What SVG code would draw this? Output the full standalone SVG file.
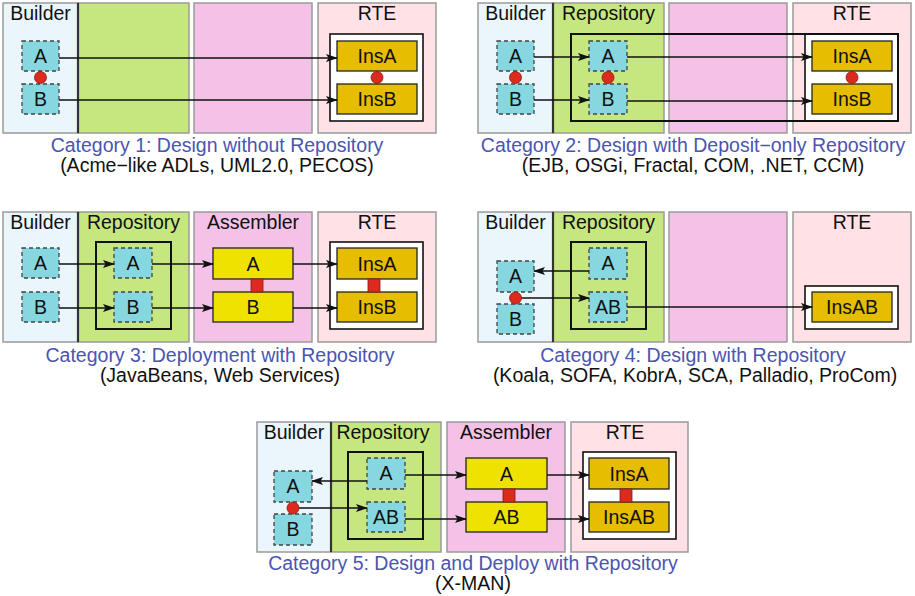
<svg xmlns="http://www.w3.org/2000/svg" width="915" height="596" viewBox="0 0 915 596">
<style>
.pb{fill:#eaf5fc;stroke:#9a9a9a;stroke-width:1.5}
.pr{fill:#c6e680;stroke:#9a9a9a;stroke-width:1.5}
.pa{fill:#f4c2e6;stroke:#9a9a9a;stroke-width:1.5}
.pt{fill:#ffe1e6;stroke:#9a9a9a;stroke-width:1.5}
.sep{stroke:#333;stroke-width:2.2}
.comp{fill:#87d7e0;stroke:#444;stroke-width:1.3;stroke-dasharray:4 3}
.asm{fill:#efe100;stroke:#222;stroke-width:1.3}
.ins{fill:#e6bd00;stroke:#222;stroke-width:1.3}
.box{fill:none;stroke:#111;stroke-width:2}
.rte{fill:#fff;stroke:#111;stroke-width:1.6}
.dot{fill:#dd2a1f;stroke:#8a1a10;stroke-width:0.8}
.t{font-family:"Liberation Sans",Arial,sans-serif;font-size:19.5px;fill:#111;text-anchor:middle}
.cap{fill:#4a55b0}
.c{stroke:#111;stroke-width:1.3;fill:none;marker-end:url(#ah)}
</style>
<defs>
<marker id="ah" viewBox="0 0 12 8" refX="11" refY="4" markerWidth="12" markerHeight="8" markerUnits="userSpaceOnUse" orient="auto">
<path d="M0,0 L12,4 L0,8 L2.5,4 z" fill="#111"/>
</marker>
</defs>

<!-- Category 1 -->
<g id="cat1">
<rect class="pb" x="3" y="3" width="75" height="130"/>
<rect class="pr" x="78" y="3" width="111" height="130"/>
<rect class="pa" x="194" y="3" width="118" height="130"/>
<rect class="pt" x="318" y="3" width="118" height="130"/>
<line class="sep" x1="78" y1="3" x2="78" y2="133"/>
<text class="t" x="40.5" y="20">Builder</text>
<text class="t" x="377" y="20">RTE</text>
<rect class="rte" x="330" y="34" width="93" height="87"/>
<text class="t cap" x="217" y="152">Category 1: Design without Repository</text>
<text class="t" x="217" y="172">(Acme−like ADLs, UML2.0, PECOS)</text>
</g>
<g id="c1-bA"><rect class="comp" x="22" y="41" width="37" height="30"/><text class="t" x="40.5" y="63">A</text></g>
<g id="c1-bB"><rect class="comp" x="22" y="84" width="37" height="30"/><text class="t" x="40.5" y="106">B</text></g>
<g id="c1-dot"><circle class="dot" cx="40.5" cy="77.5" r="6"/></g>
<g id="c1-insA"><rect class="ins" x="337" y="41" width="80" height="30"/><text class="t" x="377" y="63">InsA</text></g>
<g id="c1-insB"><rect class="ins" x="337" y="84" width="80" height="30"/><text class="t" x="377" y="106">InsB</text></g>
<g id="c1-dot2"><circle class="dot" cx="377" cy="77.5" r="6"/></g>

<!-- Category 2 -->
<g id="cat2">
<rect class="pb" x="478" y="3" width="75" height="130"/>
<rect class="pr" x="553" y="3" width="111" height="130"/>
<rect class="pa" x="669" y="3" width="118" height="130"/>
<rect class="pt" x="793" y="3" width="118" height="130"/>
<line class="sep" x1="553" y1="3" x2="553" y2="133"/>
<text class="t" x="515.5" y="20">Builder</text>
<text class="t" x="608.5" y="20">Repository</text>
<text class="t" x="852" y="20">RTE</text>
<rect class="rte" x="805" y="34" width="93" height="87"/>
<rect class="box" x="571" y="34" width="327" height="87"/>
<text class="t cap" x="693" y="152">Category 2: Design with Deposit−only Repository</text>
<text class="t" x="693" y="172">(EJB, OSGi, Fractal, COM, .NET, CCM)</text>
</g>
<g id="c2-bA"><rect class="comp" x="497" y="41" width="37" height="30"/><text class="t" x="515.5" y="63">A</text></g>
<g id="c2-bB"><rect class="comp" x="497" y="84" width="37" height="30"/><text class="t" x="515.5" y="106">B</text></g>
<g id="c2-dot"><circle class="dot" cx="515.5" cy="77.5" r="6"/></g>
<g id="c2-rA"><rect class="comp" x="589" y="41" width="38" height="30"/><text class="t" x="608" y="63">A</text></g>
<g id="c2-rB"><rect class="comp" x="589" y="84" width="38" height="30"/><text class="t" x="608" y="106">B</text></g>
<g id="c2-dot2"><circle class="dot" cx="608" cy="77.5" r="6"/></g>
<g id="c2-insA"><rect class="ins" x="812" y="41" width="80" height="30"/><text class="t" x="852" y="63">InsA</text></g>
<g id="c2-insB"><rect class="ins" x="812" y="84" width="80" height="30"/><text class="t" x="852" y="106">InsB</text></g>
<g id="c2-dot3"><circle class="dot" cx="852" cy="77.5" r="6"/></g>

<!-- Category 3 -->
<g id="cat3">
<rect class="pb" x="3" y="212" width="75" height="130"/>
<rect class="pr" x="78" y="212" width="111" height="130"/>
<rect class="pa" x="194" y="212" width="118" height="130"/>
<rect class="pt" x="318" y="212" width="118" height="130"/>
<line class="sep" x1="78" y1="212" x2="78" y2="342"/>
<text class="t" x="40.5" y="229">Builder</text>
<text class="t" x="133.5" y="229">Repository</text>
<text class="t" x="253" y="229">Assembler</text>
<text class="t" x="377" y="229">RTE</text>
<rect class="box" x="96" y="242" width="75" height="87"/>
<rect class="rte" x="330" y="242" width="93" height="87"/>
<text class="t cap" x="220" y="362">Category 3: Deployment with Repository</text>
<text class="t" x="220" y="382">(JavaBeans, Web Services)</text>
</g>
<g id="c3-bA"><rect class="comp" x="22" y="248" width="37" height="30"/><text class="t" x="40.5" y="270">A</text></g>
<g id="c3-bB"><rect class="comp" x="22" y="292" width="37" height="30"/><text class="t" x="40.5" y="314">B</text></g>
<g id="c3-rA"><rect class="comp" x="114" y="248" width="38" height="30"/><text class="t" x="133" y="270">A</text></g>
<g id="c3-rB"><rect class="comp" x="114" y="292" width="38" height="30"/><text class="t" x="133" y="314">B</text></g>
<g id="c3-aA"><rect class="asm" x="213" y="248" width="80" height="31"/><text class="t" x="253" y="271">A</text></g>
<g id="c3-aB"><rect class="asm" x="213" y="292" width="80" height="30"/><text class="t" x="253" y="314">B</text></g>
<g id="c3-aL"><rect class="dot" x="251" y="279" width="12" height="13"/></g>
<g id="c3-insA"><rect class="ins" x="337" y="248" width="80" height="31"/><text class="t" x="377" y="271">InsA</text></g>
<g id="c3-insB"><rect class="ins" x="337" y="292" width="80" height="30"/><text class="t" x="377" y="314">InsB</text></g>
<g id="c3-iL"><rect class="dot" x="368" y="279" width="12" height="13"/></g>

<!-- Category 4 -->
<g id="cat4">
<rect class="pb" x="478" y="212" width="75" height="130"/>
<rect class="pr" x="553" y="212" width="111" height="130"/>
<rect class="pa" x="669" y="212" width="118" height="130"/>
<rect class="pt" x="793" y="212" width="118" height="130"/>
<line class="sep" x1="553" y1="212" x2="553" y2="342"/>
<text class="t" x="515.5" y="229">Builder</text>
<text class="t" x="608.5" y="229">Repository</text>
<text class="t" x="852" y="229">RTE</text>
<rect class="box" x="571" y="242" width="75" height="87"/>
<rect class="rte" x="805" y="286" width="93" height="43"/>
<text class="t cap" x="693" y="362">Category 4: Design with Repository</text>
<text class="t" x="695" y="382">(Koala, SOFA, KobrA, SCA, Palladio, ProCom)</text>
</g>
<g id="c4-bA"><rect class="comp" x="497" y="261" width="37" height="31"/><text class="t" x="515.5" y="283">A</text></g>
<g id="c4-bB"><rect class="comp" x="497" y="304" width="37" height="30"/><text class="t" x="515.5" y="326">B</text></g>
<g id="c4-rA"><rect class="comp" x="589" y="248" width="38" height="31"/><text class="t" x="608" y="270">A</text></g>
<g id="c4-rAB"><rect class="comp" x="589" y="292" width="38" height="30"/><text class="t" x="608" y="314">AB</text></g>
<g id="c4-insAB"><rect class="ins" x="812" y="292" width="80" height="30"/><text class="t" x="852" y="314">InsAB</text></g>

<!-- Category 5 -->
<g id="cat5">
<rect class="pb" x="257" y="422" width="74" height="130"/>
<rect class="pr" x="331" y="422" width="110" height="130"/>
<rect class="pa" x="447" y="422" width="118" height="130"/>
<rect class="pt" x="571" y="422" width="117" height="130"/>
<line class="sep" x1="331" y1="422" x2="331" y2="552"/>
<text class="t" x="294" y="439">Builder</text>
<text class="t" x="383" y="439">Repository</text>
<text class="t" x="506" y="439">Assembler</text>
<text class="t" x="625" y="439">RTE</text>
<rect class="box" x="348" y="452" width="75" height="87"/>
<rect class="rte" x="583" y="452" width="93" height="87"/>
<text class="t cap" x="473" y="570">Category 5: Design and Deploy with Repository</text>
<text class="t" x="473" y="590">(X-MAN)</text>
</g>
<g id="c5-bA"><rect class="comp" x="274" y="471" width="38" height="31"/><text class="t" x="293" y="493">A</text></g>
<g id="c5-bB"><rect class="comp" x="274" y="514" width="38" height="31"/><text class="t" x="293" y="536">B</text></g>
<g id="c5-rA"><rect class="comp" x="367" y="458" width="38" height="31"/><text class="t" x="386" y="480">A</text></g>
<g id="c5-rAB"><rect class="comp" x="367" y="502" width="38" height="30"/><text class="t" x="386" y="524">AB</text></g>
<g id="c5-aA"><rect class="asm" x="466" y="458" width="81" height="31"/><text class="t" x="506.5" y="481">A</text></g>
<g id="c5-aAB"><rect class="asm" x="466" y="502" width="81" height="30"/><text class="t" x="506.5" y="524">AB</text></g>
<g id="c5-aL"><rect class="dot" x="503" y="489" width="12" height="13"/></g>
<g id="c5-insA"><rect class="ins" x="589" y="458" width="80" height="31"/><text class="t" x="629" y="481">InsA</text></g>
<g id="c5-insAB"><rect class="ins" x="589" y="502" width="80" height="30"/><text class="t" x="629" y="524">InsAB</text></g>
<g id="c5-iL"><rect class="dot" x="620" y="489" width="12" height="13"/></g>

<!-- connectors -->
<g id="connectors">
<line class="c" x1="59" y1="58" x2="337" y2="58"/>
<line class="c" x1="59" y1="100" x2="337" y2="100"/>
<line class="c" x1="534" y1="57" x2="589" y2="57"/>
<line class="c" x1="534" y1="100" x2="589" y2="100"/>
<line class="c" x1="627" y1="57" x2="812" y2="57"/>
<line class="c" x1="627" y1="101" x2="812" y2="101"/>
<line class="c" x1="59" y1="264" x2="114" y2="264"/>
<line class="c" x1="59" y1="308" x2="114" y2="308"/>
<line class="c" x1="152" y1="264" x2="213" y2="264"/>
<line class="c" x1="152" y1="308" x2="213" y2="308"/>
<line class="c" x1="293" y1="264" x2="337" y2="264"/>
<line class="c" x1="293" y1="308" x2="337" y2="308"/>
<line class="c" x1="589" y1="271" x2="534" y2="271"/>
<line class="c" x1="521" y1="298" x2="589" y2="298"/>
<line class="c" x1="627" y1="307" x2="812" y2="307"/>
<line class="c" x1="367" y1="481" x2="312" y2="481"/>
<line class="c" x1="299" y1="508" x2="367" y2="508"/>
<line class="c" x1="405" y1="475" x2="466" y2="475"/>
<line class="c" x1="547" y1="475" x2="589" y2="475"/>
<line class="c" x1="405" y1="519" x2="466" y2="519"/>
<line class="c" x1="547" y1="519" x2="589" y2="519"/>
</g>
<g id="c4-dot"><circle class="dot" cx="515.5" cy="298" r="6"/></g>
<g id="c5-dot"><circle class="dot" cx="293" cy="508" r="6"/></g>
</svg>
